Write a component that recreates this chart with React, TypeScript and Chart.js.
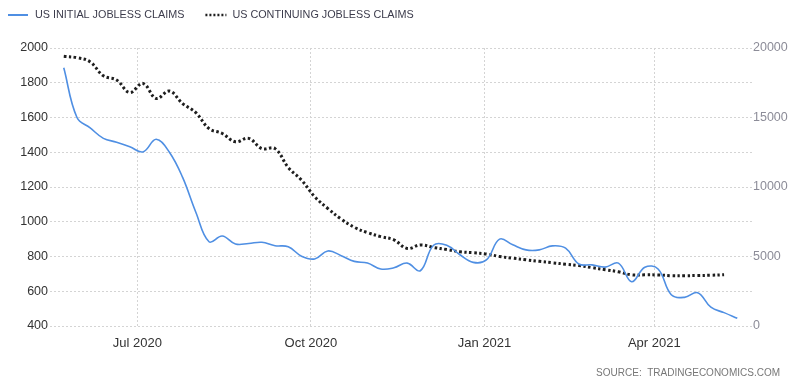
import { useEffect, useRef } from 'react';
import { Chart, registerables } from 'chart.js';

Chart.register(...registerables);

// Week-ending dates (Saturdays)
const WEEK_DATES = [
  '2020-05-23', '2020-05-30', '2020-06-06', '2020-06-13', '2020-06-20', '2020-06-27',
  '2020-07-04', '2020-07-11', '2020-07-18', '2020-07-25', '2020-08-01', '2020-08-08',
  '2020-08-15', '2020-08-22', '2020-08-29', '2020-09-05', '2020-09-12', '2020-09-19',
  '2020-09-26', '2020-10-03', '2020-10-10', '2020-10-17', '2020-10-24', '2020-10-31',
  '2020-11-07', '2020-11-14', '2020-11-21', '2020-11-28', '2020-12-05', '2020-12-12',
  '2020-12-19', '2020-12-26', '2021-01-02', '2021-01-09', '2021-01-16', '2021-01-23',
  '2021-01-30', '2021-02-06', '2021-02-13', '2021-02-20', '2021-02-27', '2021-03-06',
  '2021-03-13', '2021-03-20', '2021-03-27', '2021-04-03', '2021-04-10', '2021-04-17',
  '2021-04-24', '2021-05-01', '2021-05-08', '2021-05-15',
];

// US initial jobless claims (thousands), left axis
const INITIAL_CLAIMS = [
  1886, 1600, 1540, 1480, 1458, 1432, 1402, 1475, 1400, 1255,
  1055, 885, 918, 872, 875, 882, 862, 856, 802, 786,
  832, 805, 772, 762, 728, 735, 762, 718, 865, 865,
  810, 766, 780, 900, 867, 838, 838, 861, 848, 757,
  752, 739, 762, 655, 738, 728, 580, 565, 592, 508,
  477, 444,
];

// US continuing jobless claims (thousands), right axis
const CONTINUING_CLAIMS = [
  19400, 19300, 19000, 18000, 17700, 16800, 17450, 16370, 16900, 16000,
  15350, 14200, 13850, 13250, 13500, 12760, 12760, 11400, 10500, 9300,
  8450, 7700, 7100, 6720, 6430, 6200, 5580, 5830, 5650, 5500,
  5340, 5270, 5180, 5000, 4880, 4760, 4650, 4550, 4450, 4350,
  4200, 4050, 3900, 3680, 3680, 3670, 3620, 3620, 3630, 3650,
  3690,
];

const SERIES_LABELS = ['US INITIAL JOBLESS CLAIMS', 'US CONTINUING JOBLESS CLAIMS'];
const X_TICK_DATES = ['2020-07-01', '2020-10-01', '2021-01-01', '2021-04-01'];
const X_TICK_LABELS = ['Jul 2020', 'Oct 2020', 'Jan 2021', 'Apr 2021'];
const X_RANGE_DATES = ['2020-05-16', '2021-05-23'];
const LEFT_RANGE = [400, 2000];
const RIGHT_RANGE = [0, 20000];
const SOURCE_TEXT = 'SOURCE:  TRADINGECONOMICS.COM';

const BLUE = '#4f8fe3';
const BLACK = '#1e1e1e';
const FONT = '"Liberation Sans", Arial, sans-serif';

const dayNum = (s: string) => Date.parse(s + 'T00:00:00Z') / 86400000;

const decorPlugin = {
  id: 'decor',
  afterDraw(chart: any) {
    const ctx = chart.ctx;
    const ds = chart.data.datasets;
    ctx.save();
    ctx.font = `10.8px ${FONT}`;
    ctx.textBaseline = 'middle';
    ctx.textAlign = 'left';
    const y = 15;
    // item 1
    ctx.strokeStyle = ds[0].borderColor;
    ctx.lineWidth = 2;
    ctx.setLineDash([]);
    ctx.beginPath();
    ctx.moveTo(8, y);
    ctx.lineTo(28, y);
    ctx.stroke();
    ctx.fillStyle = '#3c3c4c';
    ctx.fillText(ds[0].label, 35, y);
    const w1 = ctx.measureText(ds[0].label).width;
    const x2 = 35 + w1 + 21;
    ctx.strokeStyle = ds[1].borderColor;
    ctx.lineWidth = 2.5;
    ctx.setLineDash([2, 2]);
    ctx.beginPath();
    ctx.moveTo(x2, y);
    ctx.lineTo(x2 + 21, y);
    ctx.stroke();
    ctx.setLineDash([]);
    ctx.fillText(ds[1].label, x2 + 27, y);
    // source
    ctx.font = `10px ${FONT}`;
    ctx.fillStyle = '#777777';
    ctx.textAlign = 'right';
    ctx.fillText(SOURCE_TEXT, 780, 373);
    ctx.restore();
  },
};

export default function App() {
  const ref = useRef<HTMLCanvasElement | null>(null);

  useEffect(() => {
    if (!ref.current) return;
    const initialData = INITIAL_CLAIMS.map((v, i) => ({ x: dayNum(WEEK_DATES[i]), y: v }));
    const continuingData = CONTINUING_CLAIMS.map((v, i) => ({ x: dayNum(WEEK_DATES[i]), y: v }));
    const chart = new Chart(ref.current, {
      type: 'line',
      data: {
        datasets: [
          {
            label: SERIES_LABELS[0],
            data: initialData,
            borderColor: BLUE,
            borderWidth: 1.6,
            pointRadius: 0,
            tension: 0.4,
            fill: false,
            yAxisID: 'y',
          },
          {
            label: SERIES_LABELS[1],
            data: continuingData,
            borderColor: BLACK,
            borderWidth: 3,
            borderDash: [2.5, 2.5],
            pointRadius: 0,
            tension: 0.4,
            fill: false,
            yAxisID: 'y1',
          },
        ],
      },
      options: {
        responsive: false,
        animation: false,
        layout: { padding: { top: 48, left: 0, right: 0, bottom: 0 } },
        plugins: {
          legend: { display: false },
          tooltip: { enabled: false },
        },
        scales: {
          x: {
            type: 'linear',
            min: dayNum(X_RANGE_DATES[0]) - 0.3,
            max: dayNum(X_RANGE_DATES[1]) - 0.2,
            afterBuildTicks: (scale: any) => {
              scale.ticks = X_TICK_DATES.map((d) => ({ value: dayNum(d) }));
            },
            afterFit: (scale: any) => {
              scale.height = 59;
            },
            ticks: {
              callback: (_v: any, i: number) => X_TICK_LABELS[i],
              color: '#333333',
              font: { family: FONT, size: 13 },
              padding: 10,
              maxRotation: 0,
              autoSkip: false,
            },
            grid: { color: '#d4d4d4', drawTicks: false, lineWidth: 1 },
            border: { display: false, dash: [2, 2] },
          },
          y: {
            position: 'left',
            min: LEFT_RANGE[0],
            max: LEFT_RANGE[1],
            afterFit: (scale: any) => {
              scale.width = 50;
            },
            ticks: {
              stepSize: 200,
              callback: (v: any) => String(v),
              color: '#333333',
              font: { family: FONT, size: 12.5 },
              padding: 2,
            },
            grid: { color: '#d4d4d4', drawTicks: false, lineWidth: 1 },
            border: { display: false, dash: [2, 2] },
          },
          y1: {
            position: 'right',
            min: RIGHT_RANGE[0],
            max: RIGHT_RANGE[1],
            afterFit: (scale: any) => {
              scale.width = 48;
            },
            ticks: {
              stepSize: 5000,
              callback: (v: any) => String(v),
              color: '#8c8c98',
              font: { family: FONT, size: 12.5 },
              padding: 1,
            },
            grid: { display: false, drawTicks: false },
            border: { display: false },
          },
        },
      },
      plugins: [decorPlugin],
    });
    return () => chart.destroy();
  }, []);

  return (
    <div style={{ position: 'absolute', left: 0, top: 0, width: 800, height: 385, background: '#fff' }}>
      <canvas ref={ref} width={800} height={385} style={{ display: 'block' }} />
    </div>
  );
}
